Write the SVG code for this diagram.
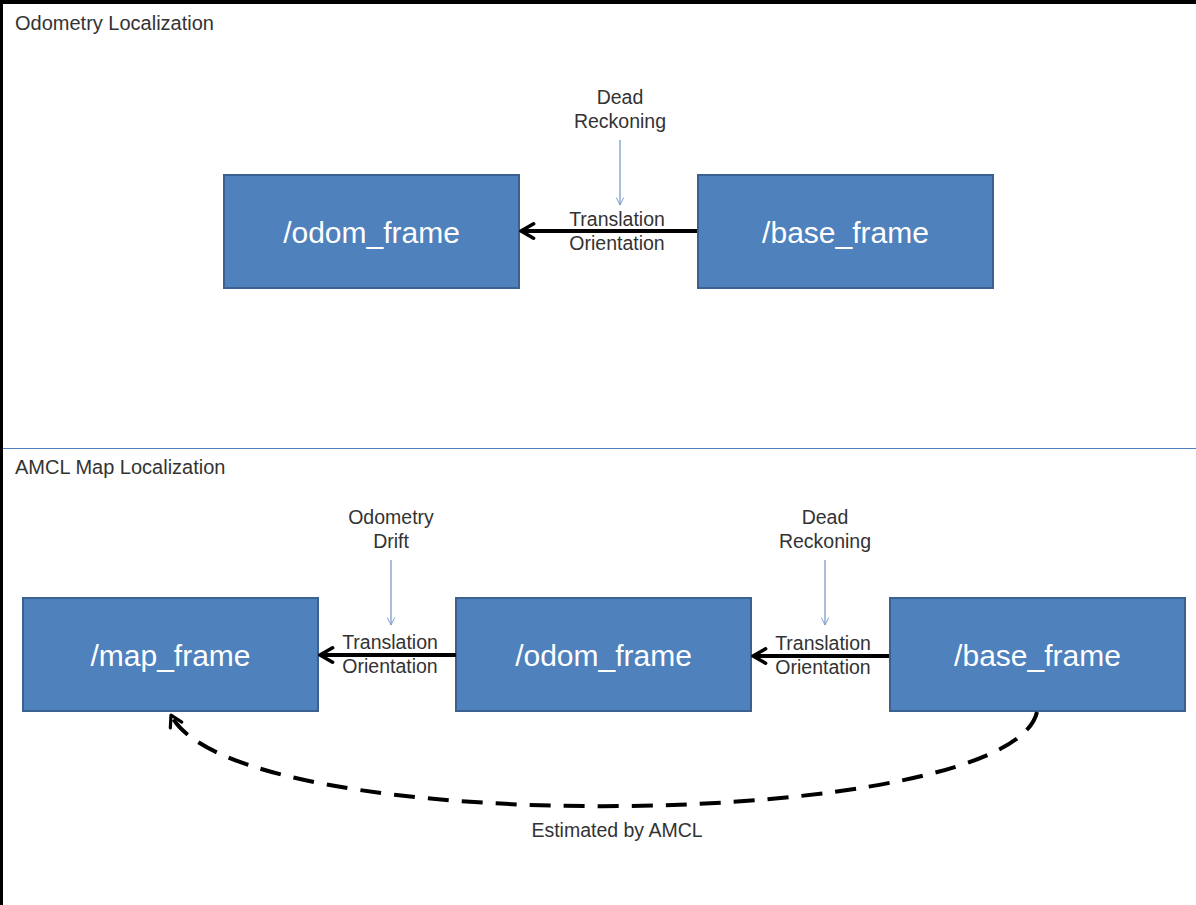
<svg xmlns="http://www.w3.org/2000/svg" width="1196" height="905" viewBox="0 0 1196 905">
  <defs>
    <style>
      .frame { fill: #4F81BD; stroke: #3A6190; stroke-width: 2; }
      .frame-label { font-family: "Liberation Sans", Arial, sans-serif; font-size: 30px; fill: #ffffff; text-anchor: middle; }
      .title { font-family: "Liberation Sans", Arial, sans-serif; font-size: 20px; fill: #333333; }
      .note { font-family: "Liberation Sans", Arial, sans-serif; font-size: 19.5px; fill: #333333; text-anchor: middle; }
      .tf { stroke: #000000; stroke-width: 4; fill: none; }
      .cause { stroke: #7A9CCB; stroke-width: 1.3; fill: none; }
      .amcl { stroke: #000000; stroke-width: 4; fill: none; stroke-dasharray: 21 13; }
    </style>
    <!-- open chevron head for the black transform arrows -->
    <marker id="tf-head" viewBox="0 0 10 10" refX="9" refY="5" markerWidth="4.5" markerHeight="5" orient="auto" markerUnits="strokeWidth">
      <path d="M2,1 L9,5 L2,9" fill="none" stroke="#000000" stroke-width="2" stroke-linecap="round" stroke-linejoin="round"/>
    </marker>
    <!-- thin open head for the cause arrows -->
    <marker id="cause-head" viewBox="0 0 12 12" refX="11" refY="6" markerWidth="9" markerHeight="9" orient="auto" markerUnits="userSpaceOnUse">
      <path d="M1,1 L11,6 L1,11" fill="none" stroke="#7A9CCB" stroke-width="1.3"/>
    </marker>
    <marker id="amcl-head" viewBox="0 0 10 10" refX="9" refY="5" markerWidth="4" markerHeight="4.5" orient="auto" markerUnits="strokeWidth">
      <path d="M2,1 L9,5 L2,9" fill="none" stroke="#000000" stroke-width="2" stroke-linecap="round" stroke-linejoin="round"/>
    </marker>
  </defs>

  <!-- page background and dark edges -->
  <rect x="0" y="0" width="1196" height="905" fill="#ffffff"/>
  <rect x="0" y="0" width="1196" height="4" fill="#000000"/>
  <rect x="0" y="0" width="3" height="905" fill="#000000"/>

  <!-- section divider -->
  <line x1="3" y1="448.5" x2="1196" y2="448.5" stroke="#4F81BD" stroke-width="1"/>

  <!-- section titles -->
  <text class="title" x="15" y="30">Odometry Localization</text>
  <text class="title" x="15" y="474">AMCL Map Localization</text>

  <!-- odometry localization nodes -->
  <g id="odom-frame-top">
    <rect class="frame" x="224" y="175" width="295" height="113"/>
    <text class="frame-label" x="371.5" y="243">/odom_frame</text>
  </g>
  <g id="base-frame-top">
    <rect class="frame" x="698" y="175" width="295" height="113"/>
    <text class="frame-label" x="845.5" y="243">/base_frame</text>
  </g>

  <!-- AMCL localization nodes -->
  <g id="map-frame">
    <rect class="frame" x="23" y="598" width="295" height="113"/>
    <text class="frame-label" x="170.5" y="666">/map_frame</text>
  </g>
  <g id="odom-frame">
    <rect class="frame" x="456" y="598" width="295" height="113"/>
    <text class="frame-label" x="603.5" y="666">/odom_frame</text>
  </g>
  <g id="base-frame">
    <rect class="frame" x="890" y="598" width="295" height="113"/>
    <text class="frame-label" x="1037.5" y="666">/base_frame</text>
  </g>

  <!-- connectors -->
  <g id="connectors">
    <!-- transforms -->
    <line class="tf" x1="697" y1="231" x2="521" y2="231" marker-end="url(#tf-head)"/>
    <line class="tf" x1="456" y1="655" x2="320" y2="655" marker-end="url(#tf-head)"/>
    <line class="tf" x1="889" y1="656" x2="753" y2="656" marker-end="url(#tf-head)"/>

    <!-- cause arrows -->
    <line class="cause" x1="620" y1="140" x2="620" y2="205" marker-end="url(#cause-head)"/>
    <line class="cause" x1="391" y1="560" x2="391" y2="625" marker-end="url(#cause-head)"/>
    <line class="cause" x1="825" y1="560" x2="825" y2="625" marker-end="url(#cause-head)"/>

    <!-- AMCL estimate -->
    <path class="amcl" d="M1037,712 C1010,832 235,842 171,715" marker-end="url(#amcl-head)"/>
  </g>

  <!-- connector labels -->
  <g id="labels">
    <text class="note" x="620" y="104">Dead</text>
    <text class="note" x="620" y="128">Reckoning</text>
    <text class="note" x="617" y="226">Translation</text>
    <text class="note" x="617" y="250">Orientation</text>

    <text class="note" x="391" y="524">Odometry</text>
    <text class="note" x="391" y="548">Drift</text>
    <text class="note" x="390" y="649">Translation</text>
    <text class="note" x="390" y="673">Orientation</text>

    <text class="note" x="825" y="524">Dead</text>
    <text class="note" x="825" y="548">Reckoning</text>
    <text class="note" x="823" y="650">Translation</text>
    <text class="note" x="823" y="674">Orientation</text>

    <text class="note" x="617" y="837">Estimated by AMCL</text>
  </g>
</svg>
